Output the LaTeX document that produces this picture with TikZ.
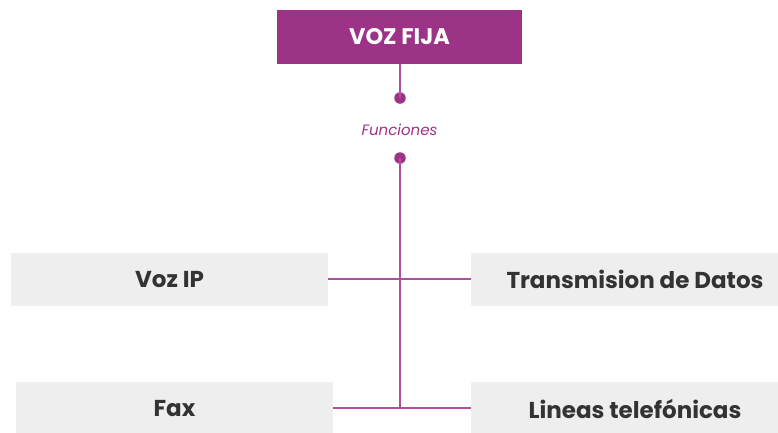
\documentclass[tikz,border=0pt]{standalone}
\usepackage{fontspec}
\setmainfont{Poppins}
\definecolor{vfpurple}{HTML}{9C3386}
\definecolor{vfline}{HTML}{B04FA0}
\definecolor{vfgray}{HTML}{EEEEEE}
\definecolor{vftext}{HTML}{333333}
\tikzset{
  topbox/.style={fill=vfpurple, text=white, font=\fontsize{22.5}{24}\selectfont\bfseries, minimum width=245pt, minimum height=54pt, inner sep=0pt, anchor=center},
  itembox/.style={fill=vfgray, text=vftext, font=\fontsize{23}{26}\selectfont\bfseries, minimum width=317pt, minimum height=53pt, inner sep=0pt, anchor=center},
  rightbox/.style={itembox, minimum width=328pt},
  conn/.style={draw=vfline, line width=1.6pt},
  dotnode/.style={circle, fill=vfpurple, minimum size=11.5pt, inner sep=0pt},
}
\begin{document}
\begin{tikzpicture}[x=1pt,y=-1pt]
\useasboundingbox (0,0) rectangle (778,432);
\node[topbox] (top) at (399.5,37) {VOZ FIJA};
\node[itembox] (voz) at (169.5,279.5) {Voz IP};
\node[rightbox] (tra) at (635,279.5) {Transmision de Datos};
\node[itembox, minimum height=54pt] (fax) at (174.5,409) {Fax};
\node[rightbox, minimum height=54pt] (lin) at (635,409) {Lineas telefónicas};
\node[dotnode] (d1) at (400,98) {};
\node[text=vfpurple, font=\fontsize{15}{17}\selectfont\itshape] (fun) at (399.5,130) {Funciones};
\node[dotnode] (d2) at (400,158) {};
\coordinate (j1) at (400,279);
\coordinate (j2) at (400,408);
\draw[conn] (top.south -| d1) -- (d1.center);
\draw[conn] (d2.center) -- (j2);
\draw[conn] (voz.east |- j1) -- (tra.west |- j1);
\draw[conn] (fax.east |- j2) -- (lin.west |- j2);
\end{tikzpicture}
\end{document}
